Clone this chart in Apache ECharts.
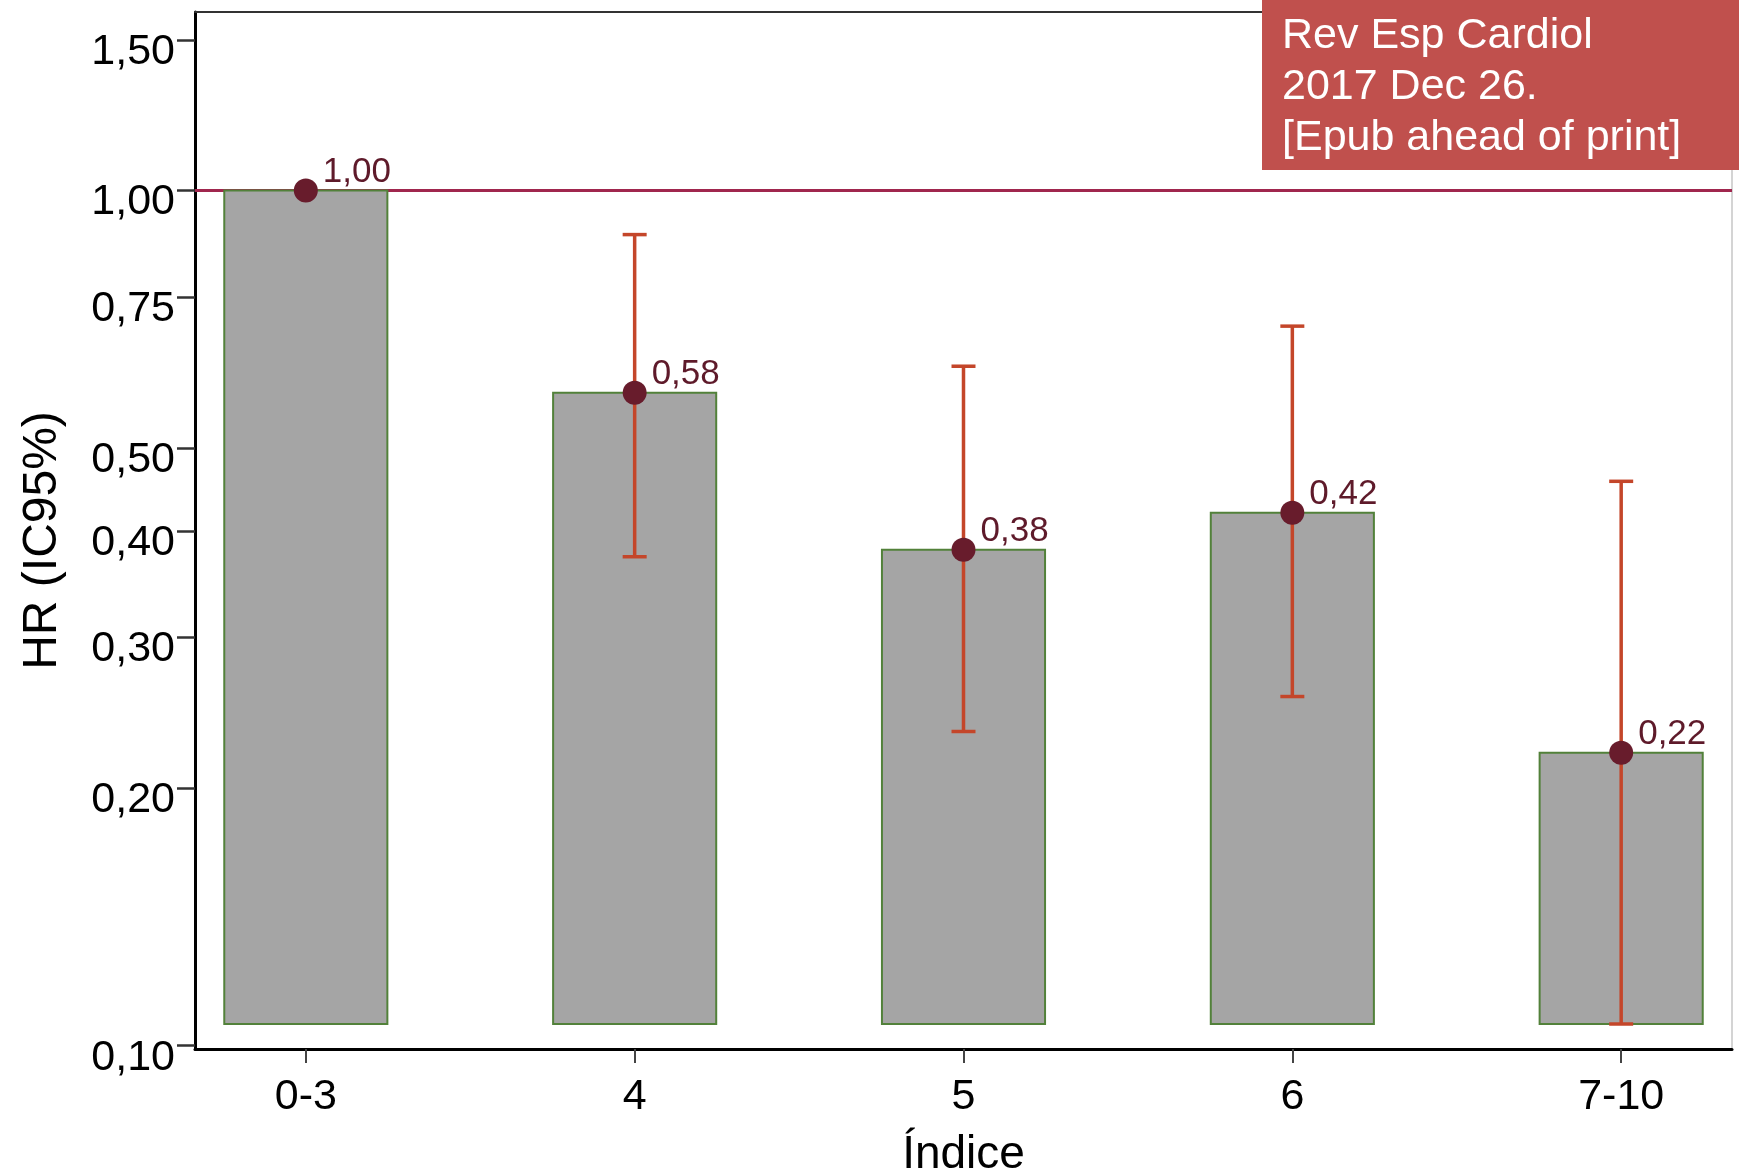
<!DOCTYPE html>
<html>
<head>
<meta charset="utf-8">
<script src="https://cdn.jsdelivr.net/npm/echarts@6/dist/echarts.min.js"></script>
<style>
  html, body { margin: 0; padding: 0; background: #ffffff; }
  #chart { width: 1739px; height: 1170px; }
</style>
</head>
<body>
<div id="chart"></div>
<script>
// Hazard ratios (with 95% CI) by index category
const categories = ['0-3', '4', '5', '6', '7-10'];
const hazardRatio = [1.00, 0.58, 0.38, 0.42, 0.22];
const ciLower = [null, 0.373, 0.233, 0.256, 0.106];
const ciUpper = [null, 0.888, 0.623, 0.694, 0.457];
const yTickValues = [0.10, 0.20, 0.30, 0.40, 0.50, 0.75, 1.00, 1.50];
const categoryIndex = [0, 1, 2, 3, 4];
const barBase = 0.106;
const referenceHR = 1.00;

const FONT = '"Liberation Sans", Arial, Helvetica, sans-serif';
const fmt = v => Number(v).toFixed(2).replace('.', ',');

const barData = hazardRatio.map((v, i) => [i, v]);
const ciData = categoryIndex
  .filter(i => ciLower[i] != null && ciUpper[i] != null)
  .map(i => [i, ciLower[i], ciUpper[i]]);

const chart = echarts.init(document.getElementById('chart'), null, { renderer: 'canvas' });

chart.setOption({
  animation: false,
  backgroundColor: '#ffffff',
  grid: {
    left: 195, right: 7, top: 12, bottom: 121,
    containLabel: false,
    outerBoundsMode: 'none'
  },
  xAxis: [
    {
      type: 'value',
      position: 'bottom',
      min: -0.337,
      max: 4.337,
      splitLine: { show: false },
      axisLine: { show: true, onZero: false, lineStyle: { color: '#000', width: 3 } },
      axisTick: {
        show: true, customValues: categoryIndex, length: 14,
        lineStyle: { color: '#444', width: 2 }
      },
      axisLabel: {
        customValues: categoryIndex,
        formatter: v => categories[Math.round(v)],
        fontSize: 43, color: '#000', fontFamily: FONT, margin: 27
      },
      name: 'Índice',
      nameLocation: 'middle',
      nameGap: 83,
      nameTextStyle: { fontSize: 46, color: '#000', fontFamily: FONT }
    },
    {
      // top frame line
      type: 'value',
      position: 'top',
      min: -0.337,
      max: 4.337,
      splitLine: { show: false },
      axisLine: { show: true, onZero: false, lineStyle: { color: '#333', width: 2 } },
      axisTick: { show: false },
      axisLabel: { show: false }
    }
  ],
  yAxis: [
    {
      type: 'log',
      logBase: 10,
      min: 0.0991,
      max: 1.617,
      position: 'left',
      splitLine: { show: false },
      minorTick: { show: false },
      axisLine: { show: true, onZero: false, lineStyle: { color: '#000', width: 3 } },
      axisTick: {
        show: true, customValues: yTickValues, length: 18,
        lineStyle: { color: '#333', width: 2.5 }
      },
      axisLabel: {
        customValues: yTickValues,
        formatter: v => fmt(v),
        fontSize: 43, color: '#000', fontFamily: FONT, margin: 20,
        verticalAlign: 'top',
        lineHeight: 24
      },
      name: 'HR (IC95%)',
      nameLocation: 'middle',
      nameRotate: 90,
      nameGap: 128,
      nameTextStyle: {
        fontSize: 48, color: '#000', fontFamily: FONT,
        padding: [0, 20, 0, 0]
      }
    },
    {
      // right frame line
      type: 'value',
      position: 'right',
      min: 0,
      max: 1,
      splitLine: { show: false },
      axisLine: { show: true, onZero: false, lineStyle: { color: '#d4d4d4', width: 2 } },
      axisTick: { show: false },
      axisLabel: { show: false }
    }
  ],
  series: [
    {
      // reference line at HR = 1
      type: 'line',
      xAxisIndex: 0,
      yAxisIndex: 0,
      data: [],
      z: 1,
      silent: true,
      markLine: {
        silent: true,
        symbol: ['none', 'none'],
        label: { show: false },
        lineStyle: { color: '#a0264e', width: 3, type: 'solid', opacity: 1 },
        data: [{ yAxis: referenceHR }]
      }
    },
    {
      // bars from the common base up to the HR
      type: 'custom',
      xAxisIndex: 0,
      yAxisIndex: 0,
      z: 10,
      data: barData,
      encode: { x: 0, y: 1 },
      renderItem: (params, api) => {
        const i = api.value(0);
        const top = api.coord([i, api.value(1)]);
        const bottom = api.coord([i, barBase]);
        const left = api.coord([i - 0.248, api.value(1)])[0];
        const right = api.coord([i + 0.248, api.value(1)])[0];
        return {
          type: 'rect',
          shape: { x: left, y: top[1], width: right - left, height: bottom[1] - top[1] },
          style: { fill: '#a5a5a5', stroke: '#52813a', lineWidth: 2 }
        };
      }
    },
    {
      // 95% confidence interval whiskers
      type: 'custom',
      xAxisIndex: 0,
      yAxisIndex: 0,
      z: 15,
      data: ciData,
      encode: { x: 0, y: [1, 2] },
      renderItem: (params, api) => {
        const i = api.value(0);
        const lo = api.coord([i, api.value(1)]);
        const hi = api.coord([i, api.value(2)]);
        const cap = 12;
        const style = { stroke: '#c4462a', lineWidth: 3.5 };
        return {
          type: 'group',
          children: [
            { type: 'line', shape: { x1: lo[0], y1: lo[1], x2: hi[0], y2: hi[1] }, style },
            { type: 'line', shape: { x1: hi[0] - cap, y1: hi[1], x2: hi[0] + cap, y2: hi[1] }, style },
            { type: 'line', shape: { x1: lo[0] - cap, y1: lo[1], x2: lo[0] + cap, y2: lo[1] }, style }
          ]
        };
      }
    },
    {
      // point estimates with value labels
      type: 'scatter',
      xAxisIndex: 0,
      yAxisIndex: 0,
      z: 20,
      data: barData,
      symbol: 'circle',
      symbolSize: 24,
      itemStyle: { color: '#681c2c', opacity: 1 },
      label: {
        show: true,
        position: 'right',
        distance: 5,
        offset: [0, -18],
        formatter: p => fmt(p.value[1]),
        fontSize: 35,
        color: '#5e1a2a',
        fontFamily: FONT
      }
    }
  ],
  graphic: [
    {
      type: 'rect',
      left: 1262,
      top: 0,
      z: 100,
      shape: { width: 477, height: 170 },
      style: { fill: '#c0504d' }
    },
    {
      type: 'text',
      left: 1282,
      top: 11,
      z: 101,
      style: {
        text: 'Rev Esp Cardiol\n2017 Dec 26.\n[Epub ahead of print]',
        fill: '#ffffff',
        font: '43px ' + FONT,
        lineHeight: 51
      }
    }
  ]
});
</script>
</body>
</html>
